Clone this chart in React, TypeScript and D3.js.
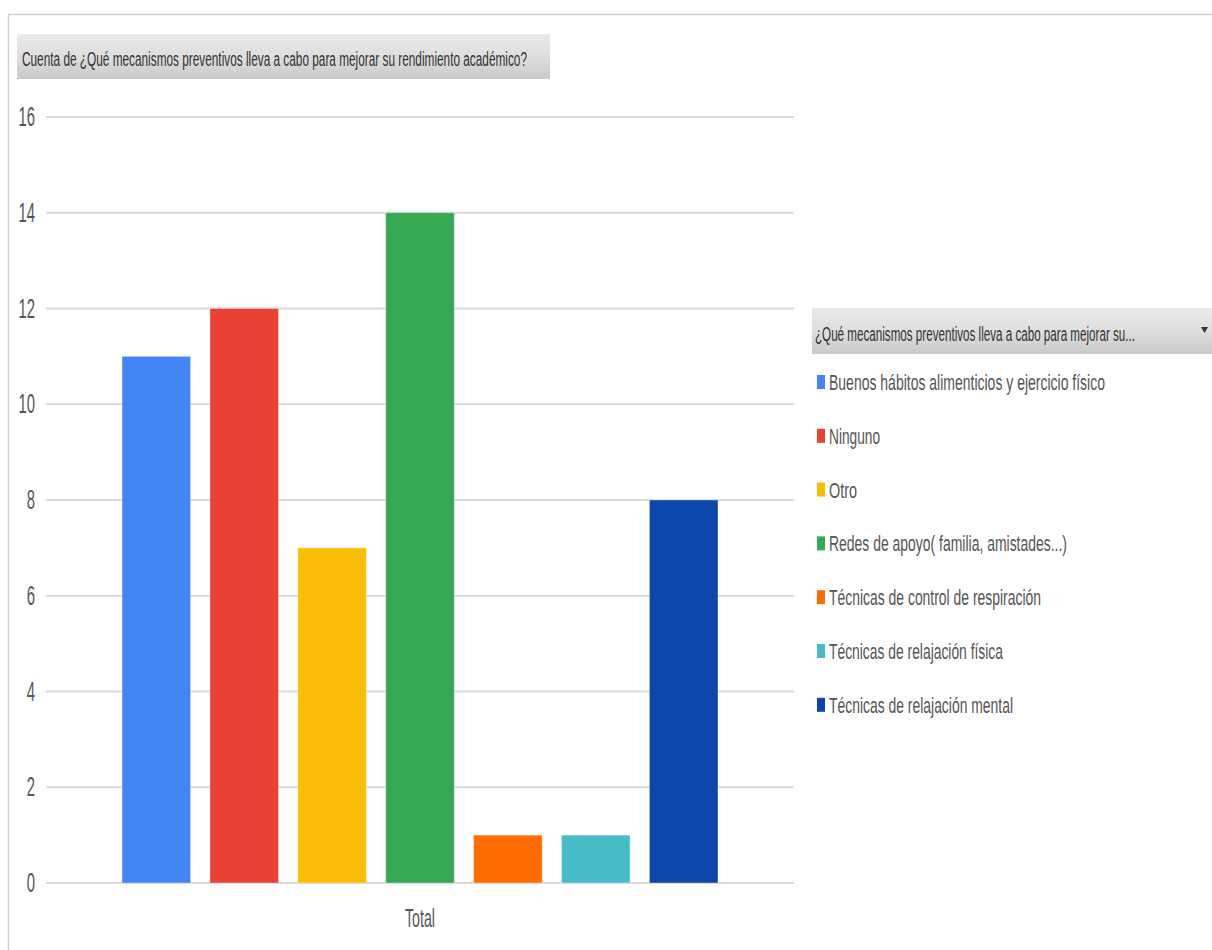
import React from "react";
import * as d3 from "d3";

const categories = ["Total"];
const seriesNames = [
  "Buenos hábitos alimenticios y ejercicio físico",
  "Ninguno",
  "Otro",
  "Redes de apoyo( familia, amistades...)",
  "Técnicas de control de respiración",
  "Técnicas de relajación física",
  "Técnicas de relajación mental",
];
const seriesValues = [11, 12, 7, 14, 1, 1, 8];
const seriesColors = ["#4285F4", "#EA4335", "#FBBC04", "#34A853", "#FF6D01", "#46BDC6", "#0B47A9"];
const yTicks = [0, 2, 4, 6, 8, 10, 12, 14, 16];
const chartTitle = "Cuenta de ¿Qué mecanismos preventivos lleva a cabo para mejorar su rendimiento académico?";
const legendTitle = "¿Qué mecanismos preventivos lleva a cabo para mejorar su...";
// widths of the condensed legend labels
const legendWidths = [276, 51, 28, 238, 212, 174, 184];

const W = 1212;
const H = 950;
const FONT = "'Liberation Sans', Arial, sans-serif";

export default function App() {
  const y = d3.scaleLinear().domain([0, 16]).range([883, 117]);
  const x0 = d3.scaleBand<string>().domain(categories).range([46, 794]).paddingInner(0).paddingOuter(0.1276);
  const x1 = d3
    .scaleBand<string>()
    .domain(seriesNames)
    .range([0, x0.bandwidth()])
    .paddingInner(0.22)
    .paddingOuter(0);

  return (
    <svg
      width={W}
      height={H}
      style={{ position: "absolute", left: 0, top: 0, background: "#fff" }}
      fontFamily={FONT}
    >
      <defs>
        <linearGradient id="hdr" x1="0" y1="0" x2="0" y2="1">
          <stop offset="0" stopColor="#e9e9e9" />
          <stop offset="0.5" stopColor="#dedede" />
          <stop offset="1" stopColor="#c9c9c9" />
        </linearGradient>
      </defs>
      {/* frame */}
      <line x1={8} x2={W} y1={14.5} y2={14.5} stroke="#d0d0d0" strokeWidth={1.5} />
      <line x1={8.5} x2={8.5} y1={14} y2={H} stroke="#d0d0d0" strokeWidth={1.5} />

      {/* title */}
      <rect x={17} y={34} width={533} height={45} fill="url(#hdr)" />
      <text x={22} y={66} fontSize={20} fill="#333" textLength={505} lengthAdjust="spacingAndGlyphs">
        {chartTitle}
      </text>

      {/* gridlines and y ticks */}
      {yTicks.map((t) => (
        <g key={t}>
          <line x1={46} x2={794} y1={y(t)} y2={y(t)} stroke="#d9d9d9" strokeWidth={2} />
          <text
            transform={`translate(35,${y(t) + 9}) scale(0.55,1)`}
            textAnchor="end"
            fontSize={27}
            fill="#555"
          >
            {t}
          </text>
        </g>
      ))}

      {/* bars */}
      {categories.map((c) => (
        <g key={c} transform={`translate(${x0(c)},0)`}>
          {seriesNames.map((s, i) => (
            <rect
              key={s}
              x={x1(s)}
              y={y(seriesValues[i])}
              width={x1.bandwidth()}
              height={y(0) - y(seriesValues[i])}
              fill={seriesColors[i]}
              stroke="#ffffff"
              strokeOpacity={0.35}
              strokeWidth={1}
            />
          ))}
          <text
            x={x0.bandwidth() / 2}
            y={927}
            textAnchor="middle"
            fontSize={26}
            fill="#555"
            textLength={30}
            lengthAdjust="spacingAndGlyphs"
          >
            {c}
          </text>
        </g>
      ))}

      {/* legend */}
      <rect x={812} y={308} width={400} height={46} fill="url(#hdr)" />
      <text x={815} y={341} fontSize={20} fill="#333" textLength={320} lengthAdjust="spacingAndGlyphs">
        {legendTitle}
      </text>
      <path d="M1201,327 L1208,327 L1204.5,333 Z" fill="#333" />
      {seriesNames.map((s, i) => {
        const by = 390 + i * 53.8;
        return (
          <g key={s}>
            <rect x={817} y={by - 15} width={8} height={14} fill={seriesColors[i]} />
            <text
              x={829}
              y={by}
              fontSize={22}
              fill="#555"
              textLength={legendWidths[i]}
              lengthAdjust="spacingAndGlyphs"
            >
              {s}
            </text>
          </g>
        );
      })}
    </svg>
  );
}
